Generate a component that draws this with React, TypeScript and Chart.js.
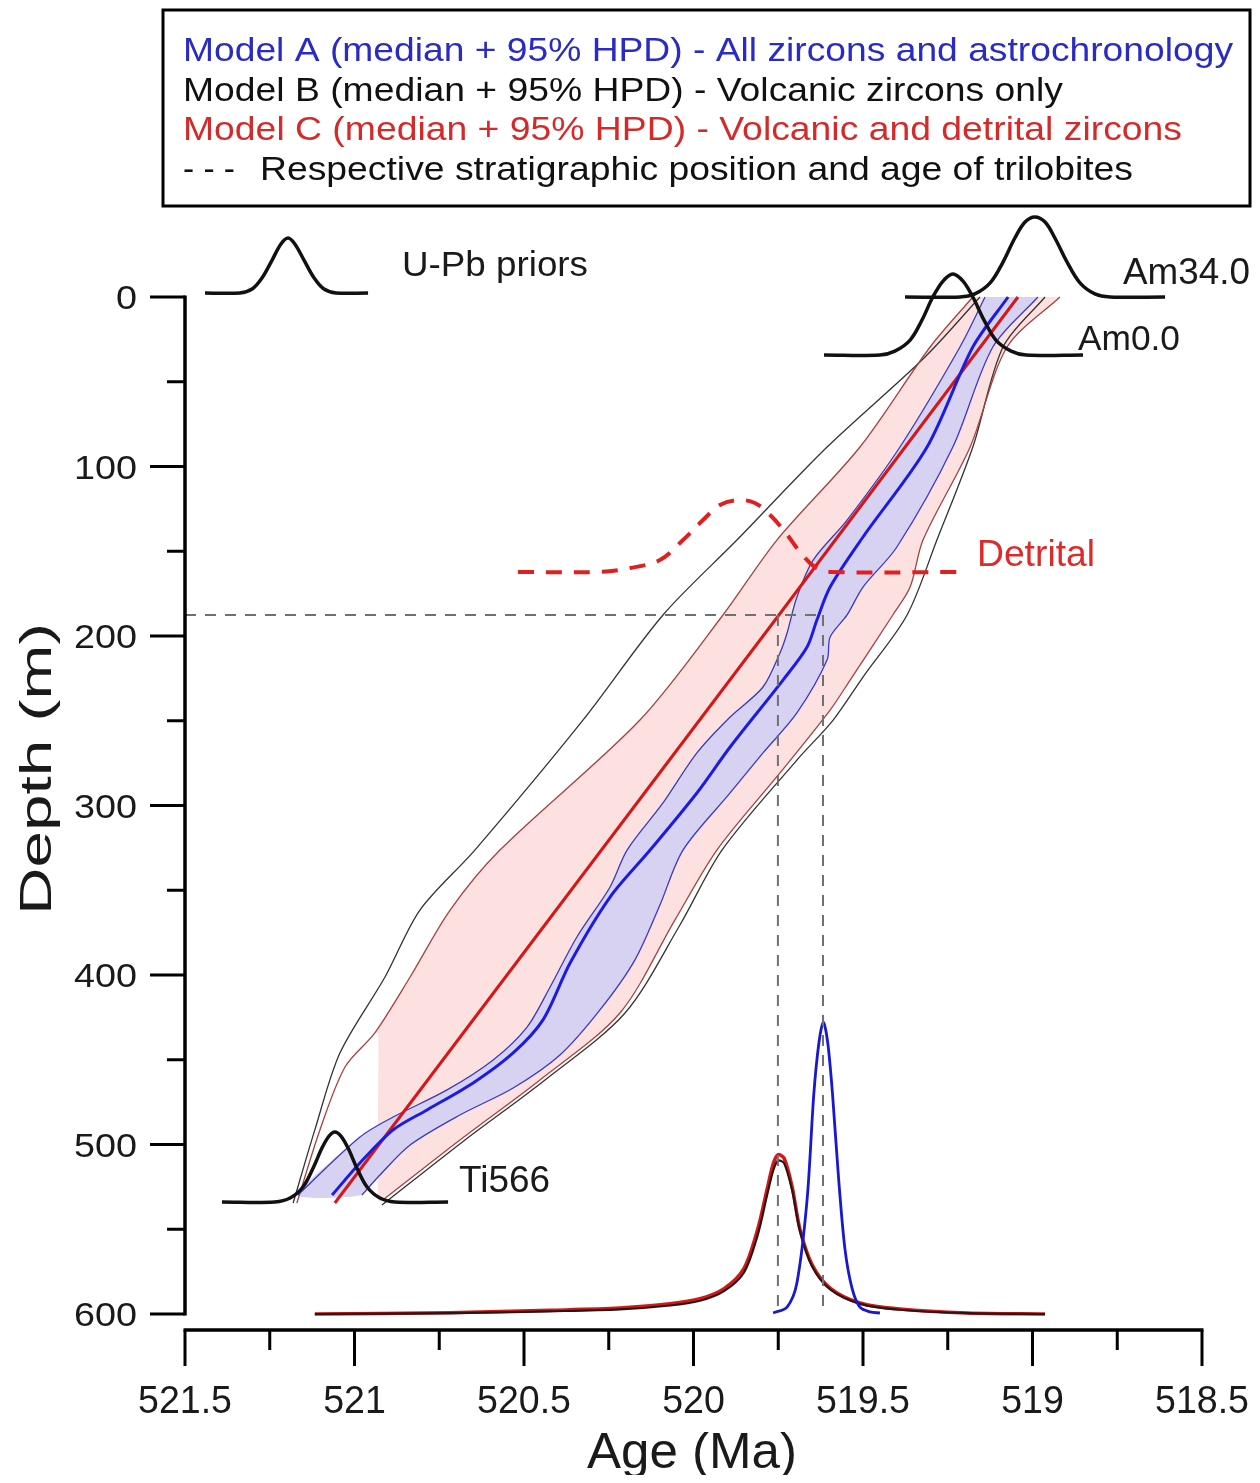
import React, { useEffect, useRef } from "react";
import { Chart, registerables } from "chart.js";

Chart.register(...registerables);

type P = [number, number]; // [age (Ma), depth (m)]

// ---------------- axis ticks ----------------
const xMajorTicks = [521.5, 521, 520.5, 520, 519.5, 519, 518.5];
const xMinorTicks = [521.25, 520.75, 520.25, 519.75, 519.25, 518.75];
const xTickLabels = ["521.5", "521", "520.5", "520", "519.5", "519", "518.5"];
const yMajorTicks = [0, 100, 200, 300, 400, 500, 600];
const yMinorTicks = [50, 150, 250, 350, 450, 550];
const yTickLabels = ["0", "100", "200", "300", "400", "500", "600"];

// ---------------- legend ----------------
const legendTexts = [
  "Model A (median + 95% HPD) - All zircons and astrochronology",
  "Model B (median + 95% HPD) - Volcanic zircons only",
  "Model C (median + 95% HPD) - Volcanic and detrital zircons",
  "Respective stratigraphic position and age of trilobites",
];

// ---------------- Model B (black) 95% HPD ----------------
const modelBOlder: P[] = [
  [519.155, 0], [519.317, 35.4], [519.606, 88.5], [519.872, 143.4], [520.09, 187.6],
  [520.326, 249.6], [520.645, 326.3], [520.807, 361.7], [520.91, 401.2], [521.043, 446.0],
  [521.117, 491.4], [521.181, 534.5],
];
const modelBYounger: P[] = [
  [518.963, 0], [519.087, 29.5], [519.176, 88.5], [519.282, 143.4], [519.37, 187.6],
  [519.5, 224.2], [519.588, 249.6], [519.695, 273.2], [519.916, 326.3], [520.04, 370.5],
  [520.202, 422.4], [520.438, 461.9], [520.674, 497.3], [520.919, 535.7],
];

// ---------------- Model C (red) median + 95% HPD ----------------
const modelCMedian: P[] = [[519.043, 0], [519.748, 187.6], [521.058, 534.5]];
const modelCOlder: P[] = [
  [519.176, 0], [519.302, 29.5], [519.509, 88.5], [519.754, 143.4], [519.913, 187.6],
  [520.158, 249.6], [520.571, 326.3], [520.718, 361.7], [520.836, 401.2], [520.94, 434.2],
  [521.028, 454.3], [521.102, 491.4], [521.17, 534.5],
];
const modelCYounger: P[] = [
  [518.919, 0], [519.075, 29.5], [519.184, 88.5], [519.323, 143.4], [519.361, 171.1],
  [519.412, 187.6], [519.538, 226.0], [519.597, 243.7], [519.745, 280.8], [519.931, 326.3],
  [520.055, 367.6], [520.217, 422.4], [520.453, 461.9], [520.689, 497.3], [520.916, 532.7],
];
const modelCFillCut: P[] = [[520.93, 434.2], [520.93, 533.0]];

// ---------------- Model A (blue) median + 95% HPD ----------------
const modelAMedian: P[] = [
  [519.072, 0], [519.176, 29.5], [519.311, 88.5], [519.5, 141.6], [519.597, 171.1],
  [519.636, 190.6], [519.665, 206.5], [519.736, 226.0], [519.892, 265.5], [519.99, 292.6],
  [520.128, 326.3], [520.246, 354.0], [520.364, 392.9], [520.444, 426.5], [520.532, 446.0],
  [520.65, 463.7], [520.786, 479.6], [520.886, 491.4], [520.984, 510.9], [521.066, 529.8],
];
const modelAOlder: P[] = [
  [519.14, 0], [519.214, 29.5], [519.391, 88.5], [519.547, 131.6], [519.647, 155.2],
  [519.695, 177.0], [519.724, 198.2], [519.745, 210.0], [519.795, 230.1], [519.892, 247.8],
  [519.99, 269.0], [520.09, 298.5], [520.196, 326.3], [520.246, 348.1], [520.344, 377.6],
  [520.423, 407.1], [520.491, 430.7], [520.591, 450.1], [520.727, 467.8], [520.886, 483.8],
  [520.984, 495.6], [521.167, 529.8],
];
const modelAYounger: P[] = [
  [518.984, 0], [519.117, 29.5], [519.235, 88.5], [519.4, 147.5], [519.5, 171.1],
  [519.547, 187.6], [519.597, 200.6], [519.606, 214.2], [519.695, 245.4], [519.795, 269.0],
  [519.892, 292.6], [520.031, 326.3], [520.099, 358.7], [520.173, 391.2], [520.276, 420.6],
  [520.394, 447.2], [520.532, 466.7], [520.689, 482.6], [520.836, 500.3], [520.925, 518.0],
  [520.978, 529.8],
];

// ---------------- priors ----------------
const priorUPbLegend: P[] = [
  [521.441, -2.4], [521.338, -2.4], [521.302, -4.7], [521.273, -11.2], [521.243, -21.8],
  [521.217, -31.3], [521.196, -34.8], [521.176, -31.3], [521.149, -21.8], [521.119, -11.2],
  [521.09, -4.7], [521.055, -2.4], [520.96, -2.4],
];
const priorAm34: P[] = [
  [519.376, 0], [519.214, 0], [519.17, -1.8], [519.125, -8.3], [519.087, -20.6],
  [519.052, -34.8], [519.022, -44.2], [518.993, -47.2], [518.963, -44.2], [518.934, -34.8],
  [518.898, -20.6], [518.86, -8.3], [518.816, -1.8], [518.771, 0], [518.609, 0],
];
const priorAm0: P[] = [
  [519.615, 34.2], [519.45, 34.2], [519.406, 31.9], [519.361, 25.4], [519.326, 13.6],
  [519.294, 0], [519.264, -9.4], [519.235, -13.6], [519.205, -9.4], [519.176, 0],
  [519.143, 13.6], [519.108, 25.4], [519.063, 31.9], [519.019, 34.2], [518.851, 34.2],
];
const priorTi566: P[] = [
  [521.391, 533.9], [521.235, 533.9], [521.19, 531.6], [521.152, 525.1], [521.122, 513.9],
  [521.096, 502.1], [521.075, 495.0], [521.058, 492.6], [521.04, 495.0], [521.019, 502.1],
  [520.993, 513.9], [520.963, 525.1], [520.925, 531.6], [520.881, 533.9], [520.724, 533.9],
];
const priorDetrital: P[] = [
  [520.518, 162.2], [520.276, 162.2], [520.187, 159.9], [520.099, 155.2], [520.031, 143.4],
  [519.972, 131.6], [519.922, 122.7], [519.869, 119.8], [519.819, 121.5], [519.774, 128.6],
  [519.73, 138.6], [519.686, 150.4], [519.642, 159.3], [519.597, 162.2], [519.214, 162.2],
];

// ---------------- trilobite level ----------------
const trilobiteHorizontal: P[] = [[521.5, 187.6], [519.636, 187.6]];
const trilobiteAgeBC: P[] = [[519.751, 187.6], [519.751, 600]];
const trilobiteAgeA: P[] = [[519.618, 187.6], [519.618, 600]];

// ---------------- posterior age of trilobite level (baseline at 600 m) ----------------
const posteriorC: P[] = [
  [521.117, 600], [520.718, 599.2], [520.423, 597.8], [520.217, 596.5], [520.069, 594.0],
  [519.981, 591.0], [519.91, 585.0], [519.851, 573.0], [519.81, 549.5], [519.783, 526.5],
  [519.765, 511.5], [519.751, 506.0], [519.733, 508.0], [519.709, 525.0], [519.686, 550.0],
  [519.65, 571.0], [519.597, 584.7], [519.509, 593.5], [519.391, 597.1], [519.193, 599.4],
  [518.963, 600],
];
const posteriorB: P[] = [
  [521.117, 600], [520.718, 599.5], [520.423, 598.4], [520.217, 597.3], [520.069, 595.0],
  [519.981, 592.2], [519.91, 586.5], [519.851, 575.5], [519.81, 553.0], [519.783, 530.0],
  [519.765, 515.5], [519.751, 509.5], [519.733, 511.0], [519.709, 527.0], [519.686, 551.0],
  [519.65, 572.0], [519.597, 585.5], [519.509, 594.0], [519.391, 597.5], [519.193, 599.5],
  [518.963, 600],
];
const posteriorA: P[] = [
  [519.765, 599.4], [519.724, 595.9], [519.695, 581.7], [519.665, 532.7], [519.645, 470.0],
  [519.63, 440.0], [519.617, 427.7], [519.604, 440.0], [519.59, 470.0], [519.572, 520.0],
  [519.553, 562.0], [519.532, 585.0], [519.509, 596.0], [519.479, 598.8], [519.45, 599.4],
];

// ---------------- colours ----------------
const BLUE = "#1c1ce0";
const BLUE_THIN = "#3a3abf";
const RED = "#d41818";
const BROWN = "#a84040";
const BLACK = "#111111";
const PINK_FILL = "#fde0e0";
const BLUE_FILL = "#d8d2f2";
const GREY_DASH = "#707070";
const FONT = '"Liberation Sans", Arial, Helvetica, sans-serif';

const toXY = (pts: P[]) => pts.map(([x, y]) => ({ x, y }));

function lineDs(label: string, pts: P[], color: string, width: number, order: number, extra: any = {}) {
  return {
    label,
    data: toXY(pts),
    borderColor: color,
    backgroundColor: color,
    borderWidth: width,
    pointRadius: 0,
    pointHoverRadius: 0,
    fill: false,
    tension: 0.3,
    clip: false,
    order,
    ...extra,
  };
}

function fitText(ctx: CanvasRenderingContext2D, text: string, x: number, y: number, size: number,
  width: number, color: string, align: CanvasTextAlign = "left") {
  ctx.save();
  ctx.font = `${size}px ${FONT}`;
  const w = ctx.measureText(text).width;
  const sx = width / w;
  ctx.translate(x, y);
  ctx.scale(sx, 1);
  ctx.fillStyle = color;
  ctx.textAlign = align;
  ctx.textBaseline = "alphabetic";
  ctx.fillText(text, 0, 0);
  ctx.restore();
}

const OFF = 8; // body margin

const decorPlugin = {
  id: "decor",
  afterDraw(chart: any) {
    const ctx: CanvasRenderingContext2D = chart.ctx;
    const xs = chart.scales.x;
    const ys = chart.scales.y;
    const axX = xs.getPixelForValue(521.5);
    const xEnd = xs.getPixelForValue(518.5);
    const yTop = ys.getPixelForValue(0);
    const yBot = ys.getPixelForValue(600);
    const xAxisY = yBot + 16;

    ctx.save();
    ctx.strokeStyle = "#000";
    ctx.lineCap = "butt";
    ctx.lineWidth = 3.5;
    ctx.beginPath();
    ctx.moveTo(axX, yTop - 1.5);
    ctx.lineTo(axX, yBot + 1.5);
    ctx.stroke();
    ctx.lineWidth = 3;
    yMajorTicks.forEach((v) => {
      const p = ys.getPixelForValue(v);
      ctx.beginPath(); ctx.moveTo(axX - 35, p); ctx.lineTo(axX, p); ctx.stroke();
    });
    yMinorTicks.forEach((v) => {
      const p = ys.getPixelForValue(v);
      ctx.beginPath(); ctx.moveTo(axX - 18, p); ctx.lineTo(axX, p); ctx.stroke();
    });
    ctx.lineWidth = 3.5;
    ctx.beginPath();
    ctx.moveTo(axX - 1.5, xAxisY);
    ctx.lineTo(xEnd + 1.5, xAxisY);
    ctx.stroke();
    ctx.lineWidth = 3;
    xMajorTicks.forEach((v) => {
      const p = xs.getPixelForValue(v);
      ctx.beginPath(); ctx.moveTo(p, xAxisY); ctx.lineTo(p, xAxisY + 36); ctx.stroke();
    });
    xMinorTicks.forEach((v) => {
      const p = xs.getPixelForValue(v);
      ctx.beginPath(); ctx.moveTo(p, xAxisY); ctx.lineTo(p, xAxisY + 20); ctx.stroke();
    });
    ctx.restore();

    ctx.save();
    ctx.font = `34px ${FONT}`;
    const ySx = 63 / ctx.measureText("100").width;
    ctx.font = `39px ${FONT}`;
    const xSx = 94 / ctx.measureText("521.5").width;
    ctx.restore();
    yMajorTicks.forEach((v, i) => {
      const p = ys.getPixelForValue(v);
      ctx.save();
      ctx.font = `34px ${FONT}`;
      const w = ctx.measureText(yTickLabels[i]).width * ySx;
      ctx.restore();
      fitText(ctx, yTickLabels[i], 137 - OFF - w, p + 12, 34, w, "#1a1a1a");
    });
    xMajorTicks.forEach((v, i) => {
      const p = xs.getPixelForValue(v);
      ctx.save();
      ctx.font = `39px ${FONT}`;
      const w = ctx.measureText(xTickLabels[i]).width * xSx;
      ctx.restore();
      fitText(ctx, xTickLabels[i], p, 1413 - OFF, 39, w, "#1a1a1a", "center");
    });

    fitText(ctx, "Age (Ma)", 692 - OFF, 1468 - OFF, 50, 210, "#1a1a1a", "center");
    ctx.save();
    ctx.translate(51 - OFF, 769 - OFF);
    ctx.rotate(-Math.PI / 2);
    fitText(ctx, "Depth (m)", 0, 0, 45, 292, "#1a1a1a", "center");
    ctx.restore();

    fitText(ctx, "U-Pb priors", 402 - OFF, 276 - OFF, 35, 186, "#1a1a1a");
    fitText(ctx, "Am34.0", 1123 - OFF, 284 - OFF, 36, 127, "#1a1a1a");
    fitText(ctx, "Am0.0", 1078 - OFF, 350 - OFF, 35, 102, "#1a1a1a");
    fitText(ctx, "Detrital", 977 - OFF, 566 - OFF, 36, 118, "#dd2a2a");
    fitText(ctx, "Ti566", 459 - OFF, 1192 - OFF, 36, 91, "#1a1a1a");

    ctx.save();
    ctx.strokeStyle = "#000";
    ctx.lineWidth = 3;
    ctx.strokeRect(163 - OFF, 10 - OFF, 1087, 196);
    ctx.restore();
    fitText(ctx, legendTexts[0], 183 - OFF, 61 - OFF, 34, 1050, "#2a2ac4");
    fitText(ctx, legendTexts[1], 183 - OFF, 101 - OFF, 34, 880, "#111111");
    fitText(ctx, legendTexts[2], 183 - OFF, 140 - OFF, 34, 999, "#d42a2a");
    fitText(ctx, "- - -", 183 - OFF, 180 - OFF, 34, 52, "#111111");
    fitText(ctx, legendTexts[3], 260 - OFF, 180 - OFF, 34, 873, "#111111");
  },
};

export default function App() {
  const ref = useRef<HTMLCanvasElement>(null);

  useEffect(() => {
    const canvas = ref.current;
    if (!canvas) return;

    const pinkPoly: P[] = [
      ...modelCOlder.filter((p) => p[1] <= 434.2),
      ...modelCFillCut,
      ...modelCYounger.slice().reverse(),
    ];
    const bluePoly: P[] = [...modelAOlder, ...modelAYounger.slice().reverse()];

    const datasets: any[] = [
      lineDs("Model C HPD fill", pinkPoly, "rgba(0,0,0,0)", 0, 20, { fill: "shape", backgroundColor: PINK_FILL, tension: 0.2 }),
      lineDs("Model A HPD fill", bluePoly, "rgba(0,0,0,0)", 0, 19, { fill: "shape", backgroundColor: BLUE_FILL, tension: 0.2 }),
      lineDs("Model B older", modelBOlder, "#333333", 1.3, 15),
      lineDs("Model B younger", modelBYounger, "#333333", 1.3, 15),
      lineDs("Model C older", modelCOlder, BROWN, 1.3, 14),
      lineDs("Model C younger", modelCYounger, BROWN, 1.3, 14),
      lineDs("Model A older", modelAOlder, BLUE_THIN, 1.3, 13),
      lineDs("Model A younger", modelAYounger, BLUE_THIN, 1.3, 13),
      lineDs("Model C median", modelCMedian, RED, 3, 12, { tension: 0 }),
      lineDs("Model A median", modelAMedian, BLUE, 3, 11),
      lineDs("Trilobite depth", trilobiteHorizontal, GREY_DASH, 2, 10, { borderDash: [11, 9], tension: 0 }),
      lineDs("Trilobite age B/C", trilobiteAgeBC, GREY_DASH, 2, 2, { borderDash: [11, 9], tension: 0 }),
      lineDs("Trilobite age A", trilobiteAgeA, GREY_DASH, 2, 2, { borderDash: [11, 9], tension: 0 }),
      lineDs("Detrital", priorDetrital, "#e02020", 4, 8, { borderDash: [16, 12], tension: 0.35 }),
      lineDs("U-Pb priors", priorUPbLegend, BLACK, 3.5, 7, { tension: 0.35 }),
      lineDs("Am34.0", priorAm34, BLACK, 3.5, 7, { tension: 0.35 }),
      lineDs("Am0.0", priorAm0, BLACK, 3.5, 7, { tension: 0.35 }),
      lineDs("Ti566", priorTi566, BLACK, 3.5, 7, { tension: 0.35 }),
      lineDs("Posterior C", posteriorC, RED, 3.5, 5, { tension: 0.3 }),
      lineDs("Posterior B", posteriorB, "#2a1515", 2.2, 4, { tension: 0.3 }),
      lineDs("Posterior A", posteriorA, "#1818d0", 2.8, 3, { tension: 0.3 }),
    ];

    const chart = new Chart(canvas, {
      type: "line",
      data: { datasets },
      options: {
        animation: false,
        responsive: false,
        events: [],
        layout: { padding: { left: 185 - OFF, right: 1244 - (1202 - OFF), top: 297 - OFF, bottom: 1467 - (1314 - OFF) } },
        scales: {
          x: { type: "linear", min: 518.5, max: 521.5, reverse: true, display: false },
          y: { type: "linear", min: 0, max: 600, reverse: true, display: false },
        },
        plugins: {
          legend: { display: false },
          tooltip: { enabled: false },
        },
      } as any,
      plugins: [decorPlugin],
    });
    return () => chart.destroy();
  }, []);

  return (
    <div style={{ width: 1244, height: 1467 }}>
      <canvas ref={ref} width={1244} height={1467} style={{ display: "block", width: 1244, height: 1467 }} />
    </div>
  );
}
